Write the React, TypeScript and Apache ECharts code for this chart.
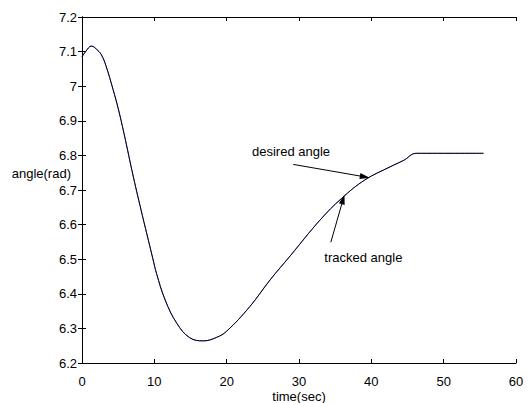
import React, { useEffect, useRef } from "react";
import * as echarts from "echarts";

// time (sec)
const timeSec = [0, 0.5, 1.3, 2.2, 2.7, 3.3, 4.3, 5.0, 5.8, 7.1, 8.35, 9.2, 9.8, 10.3, 11.5, 13.1, 14.9, 16.8, 18.6, 20.0, 23.2, 26.0, 28.8, 32.9, 35.9, 39.1, 42.6, 44.5, 46.2, 55.5];
// angle (rad)
const desiredAngle = [7.085, 7.1, 7.116, 7.103, 7.09, 7.06, 6.99, 6.936, 6.864, 6.738, 6.626, 6.553, 6.501, 6.459, 6.382, 6.315, 6.273, 6.264, 6.274, 6.292, 6.363, 6.44, 6.51, 6.613, 6.676, 6.729, 6.767, 6.786, 6.806, 6.806];
const trackedAngle = [7.085, 7.1, 7.116, 7.103, 7.09, 7.06, 6.99, 6.936, 6.864, 6.738, 6.626, 6.553, 6.501, 6.459, 6.382, 6.315, 6.273, 6.264, 6.274, 6.292, 6.363, 6.44, 6.51, 6.613, 6.676, 6.729, 6.767, 6.786, 6.806, 6.806];

// annotations in data coordinates
const desiredArrow = [[29.2, 6.774], [39.1, 6.738]];
const trackedArrow = [[34.4, 6.549], [36.1, 6.673]];
const desiredLabel = { text: "desired angle", at: [23.5, 6.811] };
const trackedLabel = { text: "tracked angle", at: [33.5, 6.505] };
const xTitle = "time(sec)";
const yTitle = "angle(rad)";

const FONT = "'Liberation Sans', Arial, sans-serif";

export default function App() {
  const ref = useRef<HTMLDivElement>(null);
  useEffect(() => {
    if (!ref.current) return;
    const chart = echarts.init(ref.current, null, { renderer: "svg" });
    const axisCommon = {
      axisLine: { show: true, lineStyle: { color: "#000", width: 1 } },
      axisTick: { show: true, inside: true, length: 4, lineStyle: { color: "#000" } },
      splitLine: { show: false },
    };
    const xBase = { type: "value", min: 0, max: 60, interval: 10 };
    const yBase = { type: "value", min: 6.2, max: 7.2, interval: 0.1 };
    const mk = (pts: number[][]) => [[{ coord: pts[0] }, { coord: pts[1] }]];
    chart.setOption({
      animation: false,
      backgroundColor: "#fff",
      grid: { left: 82, right: 12, top: 17, bottom: 40, containLabel: false, outerBoundsMode: "none" },
      xAxis: [
        {
          ...xBase,
          ...axisCommon,
          position: "bottom",
          axisLabel: { color: "#000", fontFamily: FONT, fontSize: 13, lineHeight: 13, margin: 12 },
        },
        { ...xBase, ...axisCommon, position: "top", axisLabel: { show: false } },
      ],
      yAxis: [
        {
          ...yBase,
          ...axisCommon,
          position: "left",
          axisLabel: {
            color: "#000",
            fontFamily: FONT,
            fontSize: 13,
            lineHeight: 13,
            margin: 5,
            formatter: (v: number) => String(+v.toFixed(1)),
          },
        },
        { ...yBase, ...axisCommon, position: "right", axisLabel: { show: false } },
      ],
      series: [
        {
          name: "desired angle",
          type: "line",
          data: timeSec.map((t, i) => [t, desiredAngle[i]]),
          showSymbol: false,
          smooth: 0.4,
          lineStyle: { color: "#0000ff", width: 0.6 },
          markLine: {
            silent: true,
            symbol: ["none", "triangle"],
            symbolSize: [6, 10],
            label: { show: false },
            lineStyle: { color: "#000", width: 1, type: "solid" },
            data: mk(desiredArrow),
          },
        },
        {
          name: "tracked angle",
          type: "line",
          data: timeSec.map((t, i) => [t, trackedAngle[i]]),
          showSymbol: false,
          smooth: 0.4,
          lineStyle: { color: "#000", width: 1 },
          markLine: {
            silent: true,
            symbol: ["none", "triangle"],
            symbolSize: [6, 10],
            label: { show: false },
            lineStyle: { color: "#000", width: 1, type: "solid" },
            data: mk(trackedArrow),
          },
        },
      ],
    });
    const px = (p: number[]) => chart.convertToPixel({ xAxisIndex: 0, yAxisIndex: 0 }, p) as number[];
    const d = px(desiredLabel.at);
    const tr = px(trackedLabel.at);
    chart.setOption({
      graphic: [
        {
          type: "text",
          x: d[0],
          y: d[1],
          style: { text: desiredLabel.text, fill: "#000", font: `13px ${FONT}`, verticalAlign: "middle", align: "left" },
        },
        {
          type: "text",
          x: tr[0],
          y: tr[1],
          style: { text: trackedLabel.text, fill: "#000", font: `13px ${FONT}`, verticalAlign: "middle", align: "left" },
        },
        {
          type: "text",
          x: 71,
          y: 173,
          style: { text: yTitle, fill: "#000", font: `13px ${FONT}`, lineHeight: 13, verticalAlign: "middle", align: "right" },
        },
        {
          type: "text",
          x: 299,
          y: 396,
          style: { text: xTitle, fill: "#000", font: `13px ${FONT}`, lineHeight: 13, verticalAlign: "middle", align: "center" },
        },
      ],
    });
    return () => chart.dispose();
  }, []);
  return <div ref={ref} style={{ position: "fixed", left: 0, top: 0, width: 528, height: 403 }} />;
}
